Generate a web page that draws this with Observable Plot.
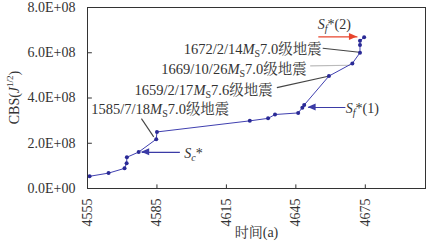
<!DOCTYPE html>
<html>
<head>
<meta charset="utf-8">
<script src="https://cdn.jsdelivr.net/npm/d3@7"></script>
<script src="https://cdn.jsdelivr.net/npm/@observablehq/plot@0.6"></script>
<style>
  html, body { margin: 0; padding: 0; background: #fff; }
  #chart svg { display: block; }
</style>
</head>
<body>
<div id="chart"></div>
<script>
// ---- data ----
const years = [4555.9, 4564.1, 4571.0, 4571.9, 4572.0, 4577.1, 4584.7, 4585.0, 4625.1, 4633.0,
               4636.0, 4646.0, 4647.8, 4648.6, 4659.3, 4669.4, 4672.7, 4672.7, 4672.7, 4674.5];
const cbs   = [0.54e8, 0.68e8, 0.89e8, 1.12e8, 1.38e8, 1.61e8, 2.18e8, 2.50e8, 2.99e8, 3.10e8,
               3.27e8, 3.34e8, 3.57e8, 3.69e8, 4.97e8, 5.53e8, 6.00e8, 6.34e8, 6.53e8, 6.68e8];
const xTicks = [4555, 4585, 4615, 4645, 4675];
const xTickLabels = ["4555", "4585", "4615", "4645", "4675"];
const yTicks = [0, 2e8, 4e8, 6e8, 8e8];
const yTickLabels = ["0.0E+00", "2.0E+08", "4.0E+08", "6.0E+08", "8.0E+08"];
const xLabel = "时间(a)";

// earthquake annotations: [date, magnitude]
const quakeDates = ["1672/2/14", "1669/10/26", "1659/2/17", "1585/7/18"];
const quakeMags  = ["7.0", "7.0", "7.6", "7.0"];
// label anchor (text end) and leader line in data coordinates
const quakeLabelX = [4656.4, 4649.9, 4635.2, 4616.5];
const quakeLabelY = [6.16e8, 5.27e8, 4.34e8, 3.50e8];
const leaderX1 = [4656.6, 4651.2, 4636.8, 4578.3];
const leaderY1 = [6.20e8, 5.42e8, 4.46e8, 3.09e8];
const leaderX2 = [4672.4, 4668.5, 4659.0, 4583.6];
const leaderY2 = [6.02e8, 5.45e8, 4.96e8, 2.28e8];
const leaderColor = ["#444", "#bbb", "#444", "#444"];

// S arrows
const sNames = ["c", "f", "f"];
const sSuffix = ["*", "*(1)", "*(2)"];
const arrowX1 = [4594.9, 4666.4, 4654.7];
const arrowX2 = [4578.4, 4650.3, 4671.6];
const arrowY  = [1.60e8, 3.58e8, 6.70e8];
const sLabelX = [4597.0, 4666.8, 4654.7];
const sLabelY = [1.56e8, 3.55e8, 7.26e8];
const arrowColor = ["#3b3ba6", "#3b3ba6", "#e8442c"];

const series = years.map((x, i) => ({x, y: cbs[i]}));
const FONT = '"Liberation Serif", "Noto Serif CJK SC", "Noto Sans CJK SC", serif';
const NAVY = "#2a2a96";

const plot = Plot.plot({
  width: 433,
  height: 245,
  marginLeft: 87,
  marginRight: 8,
  marginTop: 7,
  marginBottom: 57,
  style: {fontFamily: FONT, fontSize: "14px", color: "#333", background: "#fff", overflow: "visible"},
  x: {domain: [4555, 4701]},
  y: {domain: [0, 8e8]},
  marks: [
    Plot.axisY(yTicks, {tickSize: 0, tickPadding: 12, tickFormat: (d, i) => yTickLabels[i], label: null, fontSize: 14}),
    Plot.axisX(xTicks, {tickSize: 0, tickPadding: 10, tickRotate: -90, tickFormat: (d, i) => xTickLabels[i], label: null, fontSize: 14}),
    Plot.ruleY(yTicks.slice(1, 4), {x1: 4555, x2: 4557.1, stroke: "#333"}),
    Plot.ruleX(xTicks.slice(1), {y1: 0, y2: 1.6e7, stroke: "#333"}),
    Plot.text([xLabel], {frameAnchor: "bottom", dy: 48, fontSize: 14, fill: "#333"}),
    Plot.link(quakeDates.map((d, i) => i), {
      x1: i => leaderX1[i], y1: i => leaderY1[i], x2: i => leaderX2[i], y2: i => leaderY2[i],
      stroke: i => leaderColor[i], strokeWidth: 1.1
    }),
    Plot.link(sNames.map((d, i) => i), {
      x1: i => arrowX1[i], x2: i => arrowX2[i], y1: i => arrowY[i], y2: i => arrowY[i],
      stroke: i => arrowColor[i], strokeWidth: 1.2
    }),
    Plot.line(series, {x: "x", y: "y", stroke: "#4040b0", strokeWidth: 1}),
    Plot.dot(series, {x: "x", y: "y", r: 2, fill: NAVY, stroke: "none"}),
    Plot.frame({stroke: "#333", strokeWidth: 1})
  ]
});

document.getElementById("chart").appendChild(plot);

// ---- rich text (italic / sub / superscript) and arrowheads ----
const sx = plot.scale("x"), sy = plot.scale("y");
const svg = d3.select(plot);
const g = svg.append("g").attr("font-family", FONT).attr("fill", "#333");

// y axis label
const yl = g.append("text")
  .attr("transform", `translate(19, ${(7 + 188) / 2}) rotate(-90)`)
  .attr("text-anchor", "middle").attr("font-size", 14);
yl.append("tspan").text("CBS(");
yl.append("tspan").attr("font-style", "italic").text("J");
yl.append("tspan").attr("font-size", 9).attr("dy", -6).text("1/2");
yl.append("tspan").attr("dy", 6).text(")");

// quake labels
quakeDates.forEach((d, i) => {
  const t = g.append("text")
    .attr("x", sx.apply(quakeLabelX[i])).attr("y", sy.apply(quakeLabelY[i]))
    .attr("dy", "0.35em").attr("text-anchor", "end").attr("font-size", 14.5);
  t.append("tspan").text(d);
  t.append("tspan").attr("font-style", "italic").text("M");
  t.append("tspan").attr("font-size", 10).attr("dy", 3).text("S");
  t.append("tspan").attr("dy", -3).text(quakeMags[i] + "级地震");
});

// S labels
sNames.forEach((n, i) => {
  const t = g.append("text")
    .attr("x", sx.apply(sLabelX[i])).attr("y", sy.apply(sLabelY[i]))
    .attr("dy", "0.35em").attr("text-anchor", "start").attr("font-size", 14);
  t.append("tspan").attr("font-style", "italic").text("S");
  t.append("tspan").attr("font-style", "italic").attr("font-size", 10).attr("dy", 3).text(n);
  t.append("tspan").attr("dy", -3).text(sSuffix[i]);
});

// arrowheads
sNames.forEach((n, i) => {
  const x2 = sx.apply(arrowX2[i]), x1 = sx.apply(arrowX1[i]), y = sy.apply(arrowY[i]);
  const dir = x2 > x1 ? 1 : -1;
  const L = 8, W = 3.5;
  g.append("path")
    .attr("d", `M${x2},${y}L${x2 - dir * L},${y - W}L${x2 - dir * L},${y + W}Z`)
    .attr("fill", arrowColor[i]);
});
</script>
</body>
</html>
